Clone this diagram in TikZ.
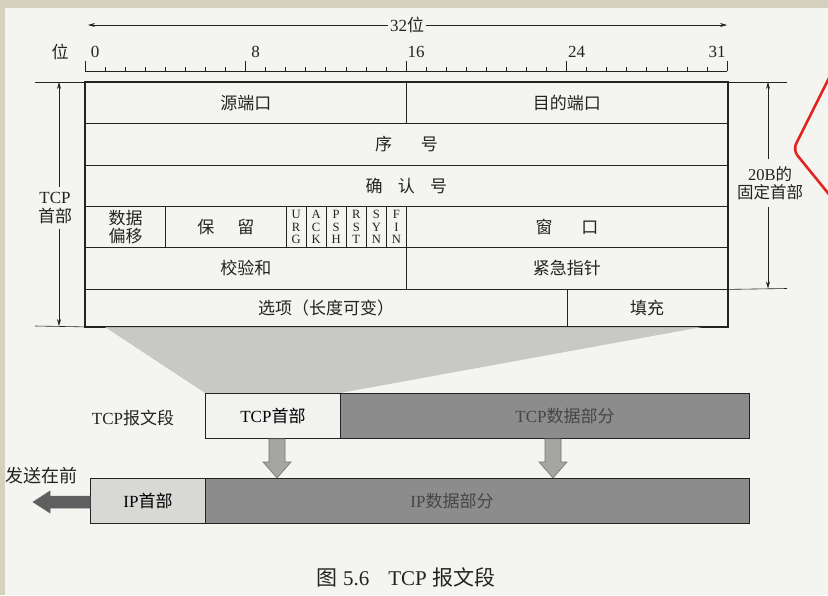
\documentclass[tikz,border=0pt]{standalone}
\usepackage{fontspec}
\setmainfont{Liberation Serif}
\newfontfamily\cjk{Noto Sans CJK SC}
\usetikzlibrary{arrows.meta,calc}
\newcommand\zh[1]{{\cjk #1}}
\newcommand\fsz[1]{\fontsize{#1}{#1}\selectfont}
\definecolor{paper}{RGB}{244,244,241}
\definecolor{beige}{RGB}{214,208,191}
\definecolor{ink}{RGB}{35,35,35}
\definecolor{darkbox}{RGB}{140,140,140}
\definecolor{lightbox}{RGB}{216,216,214}
\definecolor{whitebox}{RGB}{242,242,240}
\definecolor{funnel}{RGB}{196,196,194}
\definecolor{arrowfill}{RGB}{165,165,163}
\definecolor{sendfill}{RGB}{95,95,95}
\definecolor{dimtext}{RGB}{70,70,70}
\definecolor{redmark}{RGB}{226,38,30}
\begin{document}
\begin{tikzpicture}[x=1pt,y=-1pt,
  cell/.style={draw=ink, line width=0.9pt, anchor=north west, inner sep=0pt, text=ink, font=\cjk\fsz{17}},
  flagcell/.style={draw=ink, line width=0.9pt, anchor=north west, inner sep=0pt, text=ink, minimum width=20.0625pt, minimum height=41pt, align=center, font=\fontsize{12.6}{12.7}\selectfont},
  lbl/.style={text=ink, inner sep=0pt, font=\fsz{17}},
  dimline/.style={draw=ink, line width=0.6pt},
  dimarrow/.style={draw=ink, line width=0.6pt, -{Stealth[length=7pt,width=4pt]}},
  segbox/.style={draw=ink, line width=0.9pt, inner sep=0pt, anchor=north west, font=\fsz{17}},
  blkarrow/.style={fill=arrowfill, draw=black!55, line width=0.6pt},
  sendarrow/.style={fill=sendfill, draw=black!60, line width=0.5pt}
]
\useasboundingbox (0,0) rectangle (828,595);
\fill[paper] (0,0) rectangle (828,595);

% ---- 32 bit span ----
\coordinate (spanL) at (88,25);
\coordinate (spanR) at (727,25);
\node[lbl, fill=paper, inner xsep=2pt] (span) at (407,25) {32\zh{位}};
\draw[dimarrow] (span.west) -- (spanL);
\draw[dimarrow] (span.east) -- (spanR);

% ---- ruler ----
\node[lbl] (wei) at (60,52) {\zh{位}};
\node[lbl] (n0) at (95,52) {0};
\node[lbl] (n8) at (255.5,52) {8};
\node[lbl] (n16) at (416,52) {16};
\node[lbl] (n24) at (576.5,52) {24};
\node[lbl] (n31) at (717,52) {31};
\draw[dimline] (85,71) -- (727,71);
\foreach \i in {0,...,32}{
  \draw[dimline] ({85+20.0625*\i},71) -- ({85+20.0625*\i},67);
}
\foreach \i in {0,8,16,24,32}{
  \draw[dimline] ({85+20.0625*\i},71) -- ({85+20.0625*\i},61);
}

% ---- header table ----
\node[cell, minimum width=321pt, minimum height=41pt] (src) at (85,82) {源端口};
\node[cell, minimum width=321pt, minimum height=41pt] (dst) at (406,82) {目的端口};
\node[cell, minimum width=642pt, minimum height=41.5pt] (seq) at (85,123) {序\hspace{1.7em}号};
\node[cell, minimum width=642pt, minimum height=41.5pt] (ack) at (85,164.5) {确\hspace{0.9em}认\hspace{0.9em}号};
\node[cell, minimum width=80.25pt, minimum height=41pt, align=center, font=\cjk\fontsize{17}{18}\selectfont] (off) at (85,206) {数据\\偏移};
\node[cell, minimum width=120.375pt, minimum height=41pt] (res) at (165.25,206) {保\hspace{1.35em}留};
\node[flagcell] (urg) at (285.625,206) {U\\R\\G};
\node[flagcell] (ackf) at (305.6875,206) {A\\C\\K};
\node[flagcell] (psh) at (325.75,206) {P\\S\\H};
\node[flagcell] (rst) at (345.8125,206) {R\\S\\T};
\node[flagcell] (syn) at (365.875,206) {S\\Y\\N};
\node[flagcell] (fin) at (385.9375,206) {F\\I\\N};
\node[cell, minimum width=321pt, minimum height=41pt] (win) at (406,206) {窗\hspace{1.7em}口};
\node[cell, minimum width=321pt, minimum height=41.5pt] (chk) at (85,247) {校验和};
\node[cell, minimum width=321pt, minimum height=41.5pt] (urp) at (406,247) {紧急指针};
\node[cell, minimum width=481.5pt, minimum height=37.5pt] (opt) at (85,288.5) {选项（长度可变）};
\node[cell, minimum width=160.5pt, minimum height=37.5pt] (pad) at (566.5,288.5) {填充};
\draw[ink, line width=1.4pt] (src.north west) rectangle (pad.south east);

% ---- left dimension: TCP header ----
\draw[dimline] (35,82) -- (src.north west);
\draw[dimline] (35,326) -- (opt.south west);
\coordinate (ltop) at (59,82);
\coordinate (lbot) at (59,326);
\node[lbl, align=center, font=\fsz{17}] (tcph) at (55,208) {TCP\\[2pt]\zh{首部}};
\draw[dimarrow] (tcph.north -| ltop) ++(0,-5) -- (ltop);
\draw[dimarrow] (tcph.south -| lbot) ++(0,5) -- (lbot);

% ---- right dimension: 20B fixed header ----
\draw[dimline] (dst.north east) -- (787,82);
\draw[dimline] (urp.south east) -- (787,288.5);
\coordinate (rtop) at (768,82);
\coordinate (rbot) at (768,288.5);
\node[lbl, align=center, font=\fontsize{16.5}{17.5}\selectfont] (fixh) at (770,183) {20B\zh{的}\\\zh{固定首部}};
\draw[dimarrow] (fixh.north -| rtop) ++(0,-7) -- (rtop);
\draw[dimarrow] (fixh.south -| rbot) ++(0,7) -- (rbot);

% ---- funnel ----
\fill[funnel, opacity=0.9] (105,327) -- (702,327) -- (340,393) -- (205,393) -- cycle;

% ---- TCP segment ----
\node[lbl] (seglbl) at (133,418) {TCP\zh{报文段}};
\node[segbox, fill=whitebox, minimum width=135pt, minimum height=45pt] (tcphdr) at (205,393) {TCP\zh{首部}};
\node[segbox, fill=darkbox, minimum width=409pt, minimum height=45pt] (tcpdata) at (340,393) {};
\node[lbl, text=dimtext] (tcpdatat) at (565,416) {TCP\zh{数据部分}};

% ---- IP datagram ----
\node[segbox, fill=lightbox, minimum width=115pt, minimum height=45pt] (iphdr) at (90,478) {IP\zh{首部}};
\node[segbox, fill=darkbox, minimum width=544pt, minimum height=45pt] (ipdata) at (205,478) {};
\node[lbl, text=dimtext] (ipdatat) at (452,501) {IP\zh{数据部分}};

% ---- block arrows ----
\coordinate (a1s) at (277,393);
\coordinate (a2s) at (553,393);
\draw[blkarrow] let \p1=(a1s |- tcphdr.south), \p2=(a1s |- iphdr.north) in
  ({\x1-8pt},\y1) -- ({\x1-8pt},{\y2+16pt}) -- ({\x1-14pt},{\y2+16pt}) -- (\x1,\y2)
  -- ({\x1+14pt},{\y2+16pt}) -- ({\x1+8pt},{\y2+16pt}) -- ({\x1+8pt},\y1) -- cycle;
\draw[blkarrow] let \p1=(a2s |- tcpdata.south), \p2=(a2s |- ipdata.north) in
  ({\x1-8pt},\y1) -- ({\x1-8pt},{\y2+16pt}) -- ({\x1-14pt},{\y2+16pt}) -- (\x1,\y2)
  -- ({\x1+14pt},{\y2+16pt}) -- ({\x1+8pt},{\y2+16pt}) -- ({\x1+8pt},\y1) -- cycle;

% ---- send-first arrow ----
\coordinate (sendtip) at (33,502);
\draw[sendarrow] let \p1=(iphdr.west |- sendtip), \p2=(sendtip) in
  (\x1,{\y1+6pt}) -- ({\x2+17pt},{\y1+6pt}) -- ({\x2+17pt},{\y1+11pt}) -- (\x2,\y1)
  -- ({\x2+17pt},{\y1-11pt}) -- ({\x2+17pt},{\y1-6pt}) -- (\x1,{\y1-6pt}) -- cycle;
\node[lbl, anchor=east, font=\cjk\fsz{18}] (sendlbl) at (78,476) {发送在前};

% ---- caption ----
\node[lbl, font=\fsz{21}] (cap) at (406,577) {\zh{图} 5.6\hspace{0.9em}TCP \zh{报文段}};

% ---- red mark ----
\draw[redmark, line width=2.6pt, rounded corners=7pt] (832,72) -- (793,150) -- (832,198);

% ---- scan border ----
\fill[beige] (0,0) rectangle (828,8);
\fill[beige] (0,0) rectangle (5,595);
\end{tikzpicture}
\end{document}
